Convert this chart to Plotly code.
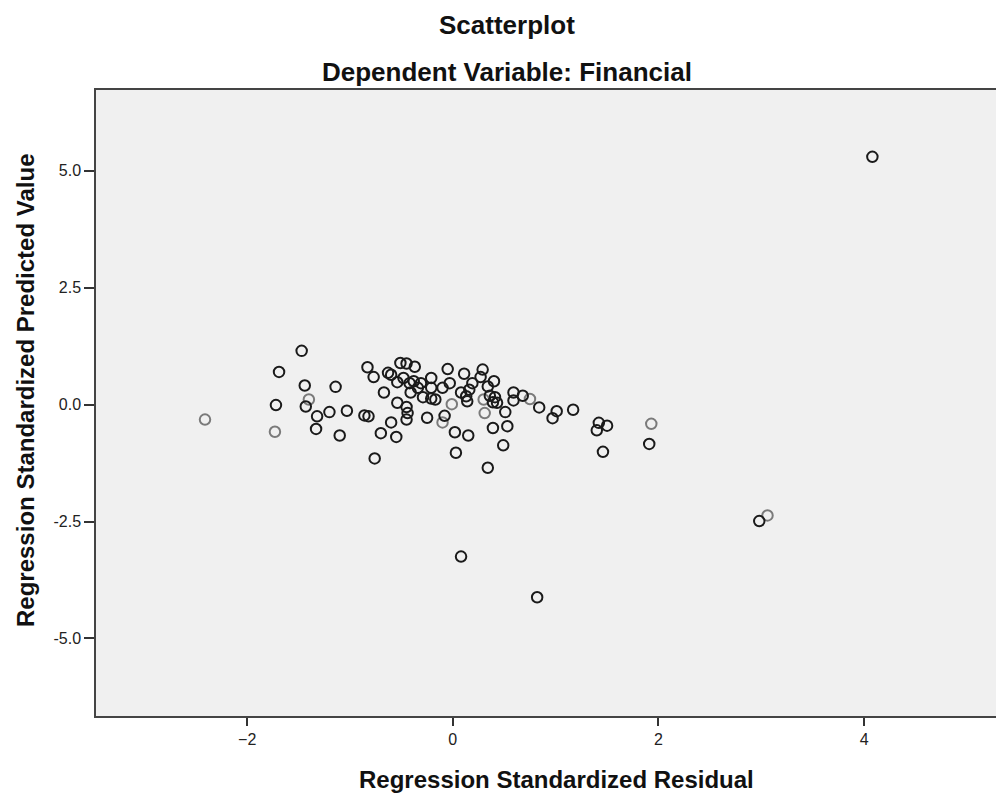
import plotly.graph_objects as go

# Regression standardized residual (x) / predicted value (y), dark-drawn points
resid_dark = [-1.47, -1.69, -1.44, -1.14, -1.72, -1.43, -1.32, -1.20, -1.03, -1.33, -1.10,
              -0.83, -0.77, -0.67, -0.86, -0.82, -0.70, -0.60, -0.55, -0.76,
              -0.63, -0.60, -0.51, -0.45, -0.37, -0.54, -0.48, -0.42, -0.38, -0.31,
              -0.41, -0.34, -0.54, -0.45, -0.45, -0.44, -0.29, -0.21, -0.21, -0.25,
              -0.21, -0.17, -0.10, -0.05, -0.03, -0.08, 0.02, 0.03, 0.11, 0.15,
              0.08, 0.13, 0.16, 0.19, 0.14, 0.29, 0.27, 0.34, 0.40, 0.36,
              0.41, 0.39, 0.43, 0.39, 0.34, 0.51, 0.53, 0.49, 0.59, 0.59,
              0.68, 0.84, 1.01, 0.97, 1.17, 1.42, 1.50, 1.40, 1.46, 1.91,
              4.08, 2.98, 0.08, 0.82]
pred_dark = [1.15, 0.70, 0.41, 0.38, -0.01, -0.04, -0.25, -0.16, -0.13, -0.52, -0.66,
             0.80, 0.59, 0.26, -0.23, -0.25, -0.61, -0.38, -0.69, -1.15,
             0.68, 0.64, 0.89, 0.88, 0.81, 0.48, 0.57, 0.46, 0.50, 0.46,
             0.26, 0.36, 0.04, -0.05, -0.32, -0.18, 0.16, 0.57, 0.36, -0.28,
             0.13, 0.11, 0.36, 0.76, 0.46, -0.24, -0.59, -1.03, 0.66, -0.66,
             0.26, 0.18, 0.32, 0.46, 0.07, 0.75, 0.59, 0.39, 0.50, 0.19,
             0.16, 0.05, 0.04, -0.50, -1.35, -0.16, -0.46, -0.87, 0.26, 0.09,
             0.19, -0.06, -0.14, -0.29, -0.11, -0.39, -0.45, -0.55, -1.01, -0.84,
             5.30, -2.49, -3.25, -4.12]

# Lighter-drawn points
resid_light = [-2.41, -1.40, -1.73, -0.01, -0.10, 0.30, 0.31, 0.75, 1.93, 3.06]
pred_light = [-0.32, 0.11, -0.58, 0.01, -0.38, 0.11, -0.18, 0.12, -0.41, -2.37]

x_ticks = [-2, 0, 2, 4]
y_ticks = [-5.0, -2.5, 0.0, 2.5, 5.0]
y_tick_text = ["-5.0", "-2.5", "0.0", "2.5", "5.0"]

title_main = "Scatterplot"
title_sub = "Dependent Variable: Financial"
x_title = "Regression Standardized Residual"
y_title = "Regression Standardized Predicted Value"

FONT = "Liberation Sans, Arial, sans-serif"

fig = go.Figure()
fig.add_trace(go.Scatter(
    x=resid_light, y=pred_light, mode="markers",
    marker=dict(symbol="circle-open", size=10.5, color="#7a7a7a", line=dict(width=2)),
    showlegend=False, hoverinfo="x+y"))
fig.add_trace(go.Scatter(
    x=resid_dark, y=pred_dark, mode="markers",
    marker=dict(symbol="circle-open", size=10.5, color="#1a1a1a", line=dict(width=2)),
    showlegend=False, hoverinfo="x+y"))

# page body has an 8px margin; figure sized to fill the 1004x793 window
OFF = 8
W, H = 1004 - OFF, 793 - OFF
PL, PT, PB = 96, 90, 716          # plot-area edges in window pixels
L = PL - OFF
T = PT - OFF
B = H - (PB - OFF)
R = 0
plot_w = W - L - R
plot_h = H - T - B

def px_x(px):
    return (px - PL) / plot_w

def px_y(py):
    return (PB - py) / plot_h

fig.update_layout(
    width=W, height=H,
    margin=dict(l=L, r=R, t=T, b=B, pad=0),
    paper_bgcolor="white",
    plot_bgcolor="#f0f0f0",
    font=dict(family=FONT, color="#222"),
    xaxis=dict(range=[-3.47, 5.36], tickvals=x_ticks, ticks="outside", ticklen=8,
               tickcolor="#333", tickwidth=1.5, showgrid=False, zeroline=False,
               showline=True, linecolor="#444", linewidth=1.5, mirror=True,
               tickfont=dict(size=16, color="#222", family=FONT)),
    yaxis=dict(range=[-6.66, 6.73], tickvals=y_ticks, ticktext=y_tick_text,
               ticks="outside", ticklen=10, tickcolor="#333", tickwidth=1.5,
               showgrid=False, zeroline=False, showline=True, linecolor="#444",
               linewidth=1.5, mirror=False,
               tickfont=dict(size=16, color="#222", family=FONT)),
    annotations=[
        dict(text="<b>%s</b>" % title_main, xref="paper", yref="paper",
             x=px_x(507), y=px_y(25), showarrow=False, xanchor="center", yanchor="middle",
             font=dict(size=26, family=FONT, color="#111")),
        dict(text="<b>%s</b>" % title_sub, xref="paper", yref="paper",
             x=px_x(507), y=px_y(72), showarrow=False, xanchor="center", yanchor="middle",
             font=dict(size=26, family=FONT, color="#111")),
        dict(text="<b>%s</b>" % x_title, xref="paper", yref="paper",
             x=px_x(556), y=px_y(779), showarrow=False, xanchor="center", yanchor="middle",
             font=dict(size=24, family=FONT, color="#111")),
        dict(text="<b>%s</b>" % y_title, xref="paper", yref="paper",
             x=px_x(25), y=px_y(391), showarrow=False, xanchor="center", yanchor="middle",
             textangle=-90, font=dict(size=24, family=FONT, color="#111")),
    ],
)

fig.write_html("out.html")
